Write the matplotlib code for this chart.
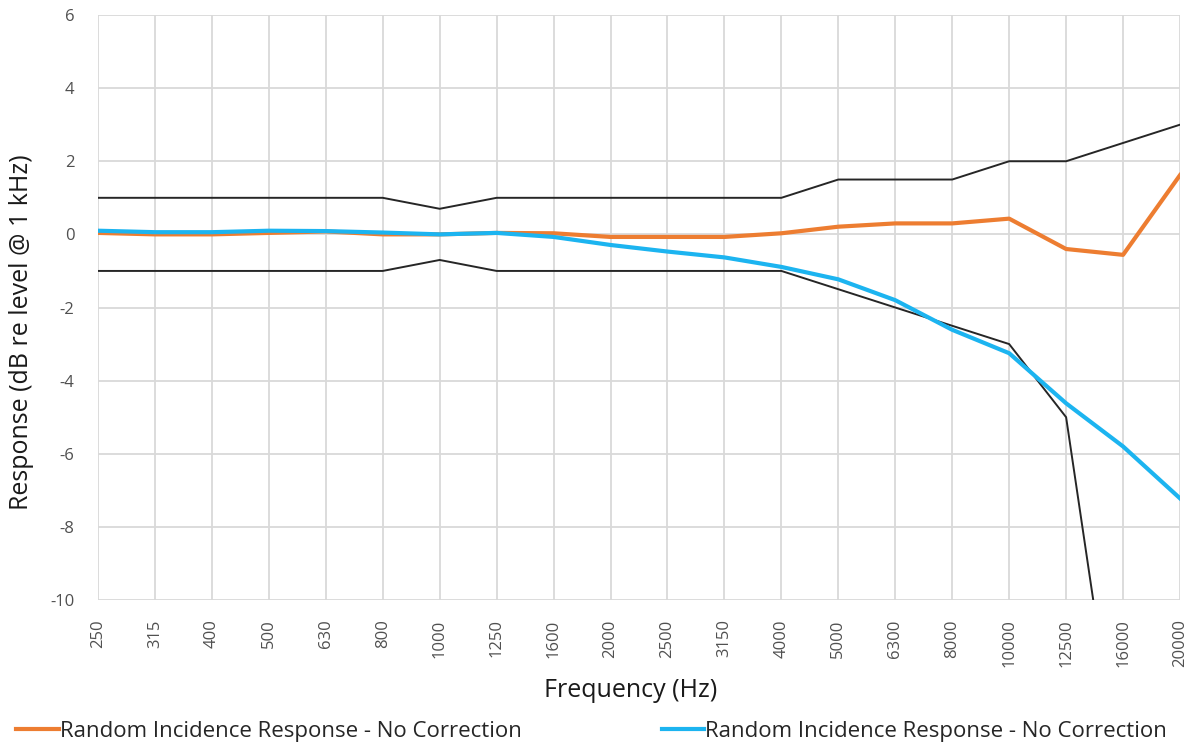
import numpy as np
import matplotlib.pyplot as plt

# frequency bands (Hz) on a category axis
freqs = ["250", "315", "400", "500", "630", "800", "1000", "1250", "1600", "2000",
         "2500", "3150", "4000", "5000", "6300", "8000", "10000", "12500", "16000", "20000"]

# response values (dB re level @ 1 kHz)
orange_resp = [0.04, 0.0, 0.0, 0.04, 0.08, 0.0, 0.0, 0.04, 0.03, -0.07,
               -0.07, -0.07, 0.03, 0.21, 0.3, 0.3, 0.43, -0.4, -0.56, 1.62]
blue_resp = [0.1, 0.06, 0.06, 0.1, 0.09, 0.05, 0.0, 0.04, -0.07, -0.29,
             -0.47, -0.63, -0.89, -1.23, -1.8, -2.61, -3.25, -4.62, -5.8, -7.22]

# tolerance limits
upper_tol = [1, 1, 1, 1, 1, 1, 0.7, 1, 1, 1,
             1, 1, 1, 1.5, 1.5, 1.5, 2, 2, 2.5, 3]
lower_tol = [-1, -1, -1, -1, -1, -1, -0.7, -1, -1, -1,
             -1, -1, -1, -1.5, -2, -2.5, -3, -5, -15.5, np.nan]

legend_labels = ["Random Incidence Response - No Correction",
                 "Random Incidence Response - No Correction"]

plt.rcParams["font.family"] = ["Open Sans", "DejaVu Sans"]
plt.rcParams["axes.unicode_minus"] = False

fig = plt.figure(figsize=(11.97, 7.51), dpi=100)
ax = fig.add_axes([98 / 1197, 1 - 600 / 751, (1180 - 98) / 1197, (600 - 15) / 751])

x = np.arange(len(freqs))
ax.plot(x, upper_tol, color="#262626", lw=1.4, zorder=2)
ax.plot(x, lower_tol, color="#262626", lw=1.4, zorder=2)
l1, = ax.plot(x, orange_resp, color="#ED7D31", lw=3, zorder=3)
l2, = ax.plot(x, blue_resp, color="#1CB4F0", lw=3, zorder=3)

ax.set_xlim(0, len(freqs) - 1)
ax.set_ylim(-10, 6)
ax.set_yticks(range(-10, 7, 2))
ax.set_xticks(x)
ax.set_xticklabels(freqs, rotation=90)
ax.tick_params(axis="both", length=0, labelsize=12, colors="#505050")
ax.tick_params(axis="y", pad=17)
ax.tick_params(axis="x", pad=14)
ax.grid(True, color="#d9d9d9", lw=1.3)
ax.set_axisbelow(True)
for s in ax.spines.values():
    s.set_visible(False)

ax.set_xlabel("Frequency (Hz)", fontsize=18, color="#1a1a1a")
ax.set_ylabel("Response (dB re level @ 1 kHz)", fontsize=18, color="#1a1a1a")
ax.xaxis.set_label_coords(0.4926, -0.134)
ax.yaxis.set_label_coords(-0.059, 0.458)

fig.legend([l1, l2], legend_labels, loc="lower left", bbox_to_anchor=(-0.003, -0.014),
           ncol=2, frameon=False, fontsize=16, handlelength=1.9, handletextpad=0.05,
           columnspacing=6.3, labelcolor="#262626")

fig.savefig("out.png", dpi=100)
